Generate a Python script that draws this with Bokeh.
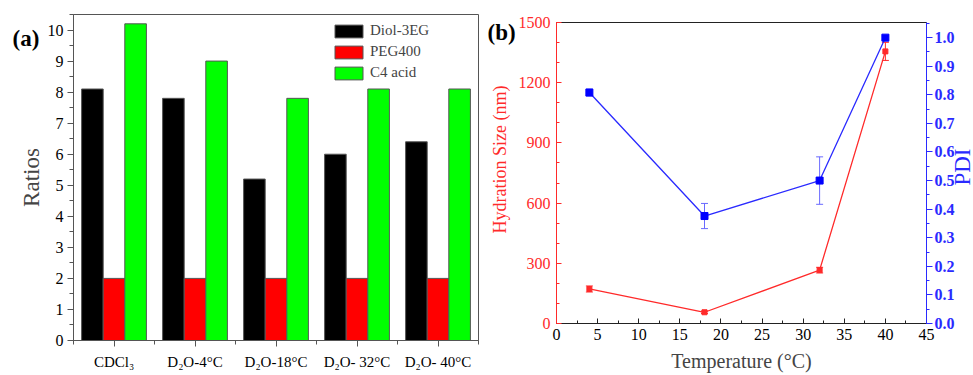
import numpy as np
from bokeh.plotting import figure
from bokeh.layouts import row, column
from bokeh.models import (Range1d, LinearAxis, SingleIntervalTicker, FixedTicker, Legend,
                          LegendItem, Whisker, TeeHead, ColumnDataSource, Title, Div,
                          PrintfTickFormatter)
from bokeh.embed import file_html
from bokeh.resources import INLINE

# ---------------- data ----------------
categories = ["CDCl₃", "D₂O-4°C", "D₂O-18°C", "D₂O- 32°C", "D₂O- 40°C"]
diol_3eg = [8.1, 7.8, 5.2, 6.0, 6.4]
peg400 = [2.0, 2.0, 2.0, 2.0, 2.0]
c4_acid = [10.2, 9.0, 7.8, 8.1, 8.1]

temperature = [4, 18, 32, 40]
hydration_size = [172, 56, 266, 1356]
hydration_err = [15, 6, 14, 45]
pdi = [0.808, 0.376, 0.50, 1.0]
pdi_err = [0.012, 0.044, 0.083, 0.006]

FONT = "Liberation Serif"
RED = "#ff2a2a"
BLUE = "#2a2aff"

# ---------------- panel (a) ----------------
n = len(categories)
xs = np.arange(1, n + 1)
w = 0.8 / 3

pa = figure(width=485, height=375, output_backend="svg", toolbar_location=None,
            x_range=Range1d(0.5, n + 0.5), y_range=Range1d(0, 10.5),
            min_border_left=73, min_border_right=7, min_border_top=14,
            min_border_bottom=35, background_fill_color="white",
            border_fill_color="white")
pa.xgrid.visible = False
pa.ygrid.visible = False
pa.outline_line_color = "#555555"

r1 = pa.vbar(x=xs - w, top=diol_3eg, width=w, fill_color="#000000", line_color="#555555", line_width=1)
r2 = pa.vbar(x=xs, top=peg400, width=w, fill_color="#ff0000", line_color="#555555", line_width=1)
r3 = pa.vbar(x=xs + w, top=c4_acid, width=w, fill_color="#00ff00", line_color="#555555", line_width=1)

legend = Legend(items=[LegendItem(label="Diol-3EG", renderers=[r1]),
                       LegendItem(label="PEG400", renderers=[r2]),
                       LegendItem(label="C4 acid", renderers=[r3])],
                location="top_right", margin=4, padding=4, spacing=4,
                glyph_width=35, glyph_height=16, label_height=16, label_width=100,
                label_standoff=4, label_text_font=FONT, label_text_font_size="15px",
                border_line_alpha=0, background_fill_alpha=0)
pa.add_layout(legend)

ya = pa.yaxis[0]
ya.ticker = SingleIntervalTicker(interval=1, num_minor_ticks=2)
ya.axis_label = "Ratios"
xa = pa.xaxis[0]
xa.ticker = FixedTicker(ticks=[float(v) for v in xs],
                        minor_ticks=[float(v) for v in np.arange(0.5, n + 1, 1.0)])
xa.major_label_overrides = {float(v): c for v, c in zip(xs, categories)}
for ax in (ya, xa):
    ax.axis_line_color = "#555555"
    ax.major_tick_line_color = "#555555"
    ax.minor_tick_line_color = "#555555"
    ax.major_tick_in = 0
    ax.major_tick_out = 6
    ax.minor_tick_in = 0
    ax.minor_tick_out = 4
    ax.major_label_text_font = FONT
    ax.major_label_text_font_size = "16px"
    ax.major_label_text_color = "black"
    ax.axis_label_text_font = FONT
    ax.axis_label_text_font_style = "normal"
    ax.axis_label_text_font_size = "23px"
ya.major_label_standoff = 4
ya.axis_label_standoff = 1
xa.major_label_text_font_size = "15px"
xa.major_label_standoff = 7

pa.add_layout(Title(text="(a)", align="left", offset=-61, vertical_align="bottom",
                    standoff=-72, text_font=FONT, text_font_style="bold",
                    text_font_size="23px", text_color="black"), "above")

# ---------------- panel (b) ----------------
pb = figure(width=472, height=375, output_backend="svg", toolbar_location=None,
            x_range=Range1d(0, 45), y_range=Range1d(0, 1500),
            min_border_left=71, min_border_right=30, min_border_top=22,
            min_border_bottom=52, background_fill_color="white",
            border_fill_color="white")
pb.extra_y_ranges = {"pdi": Range1d(0, 1.053)}
pb.xgrid.visible = False
pb.ygrid.visible = False
pb.outline_line_color = "#222222"

src_h = ColumnDataSource(dict(x=temperature, y=hydration_size,
                              lo=[v - e for v, e in zip(hydration_size, hydration_err)],
                              hi=[v + e for v, e in zip(hydration_size, hydration_err)]))
src_p = ColumnDataSource(dict(x=temperature, y=pdi,
                              lo=[v - e for v, e in zip(pdi, pdi_err)],
                              hi=[v + e for v, e in zip(pdi, pdi_err)]))

pb.add_layout(Whisker(source=src_h, base="x", upper="hi", lower="lo", line_color=RED,
                      line_width=1,
                      upper_head=TeeHead(size=7, line_color=RED, line_width=1),
                      lower_head=TeeHead(size=7, line_color=RED, line_width=1)))
pb.line("x", "y", source=src_h, line_color=RED, line_width=1.3)
pb.scatter("x", "y", source=src_h, marker="square", size=5, fill_color=RED, line_color=RED)

pb.add_layout(Whisker(source=src_p, base="x", upper="hi", lower="lo", y_range_name="pdi",
                      line_color="#6a6aff", line_width=1,
                      upper_head=TeeHead(size=7, line_color="#6a6aff", line_width=1),
                      lower_head=TeeHead(size=7, line_color="#6a6aff", line_width=1)))
pb.line("x", "y", source=src_p, y_range_name="pdi", line_color=BLUE, line_width=1.3)
pb.scatter("x", "y", source=src_p, y_range_name="pdi", marker="square", size=7,
           fill_color="#0000ff", line_color="#0000ff")

xb = pb.xaxis[0]
xb.ticker = SingleIntervalTicker(interval=5, num_minor_ticks=2)
xb.axis_label = "Temperature (°C)"
xb.axis_line_color = "#222222"
xb.major_tick_line_color = "#222222"
xb.minor_tick_line_color = "#222222"
xb.major_tick_in = 5
xb.major_tick_out = 0
xb.minor_tick_in = 3
xb.minor_tick_out = 0
xb.major_label_text_font = FONT
xb.major_label_text_font_size = "16px"
xb.major_label_text_color = "black"
xb.major_label_standoff = 5
xb.axis_label_text_font = FONT
xb.axis_label_text_font_style = "normal"
xb.axis_label_text_font_size = "20px"
xb.axis_label_standoff = 7

yb = pb.yaxis[0]
yb.ticker = SingleIntervalTicker(interval=300, num_minor_ticks=3)
yb.axis_label = "\u00a0" * 6 + "Hydration Size (nm)"
yb.axis_line_color = RED
yb.major_tick_line_color = RED
yb.minor_tick_line_color = RED
yb.major_tick_in = 5
yb.major_tick_out = 0
yb.minor_tick_in = 3
yb.minor_tick_out = 0
yb.major_label_text_font = FONT
yb.major_label_text_font_size = "16px"
yb.major_label_text_color = RED
yb.major_label_standoff = 6
yb.axis_label_text_font = FONT
yb.axis_label_text_font_style = "normal"
yb.axis_label_text_font_size = "18px"
yb.axis_label_text_color = RED
yb.axis_label_standoff = 6

yr = LinearAxis(y_range_name="pdi",
                ticker=SingleIntervalTicker(interval=0.1, num_minor_ticks=2),
                formatter=PrintfTickFormatter(format="%.1f"))
yr.axis_line_color = BLUE
yr.major_tick_line_color = BLUE
yr.minor_tick_line_color = BLUE
yr.major_tick_in = 0
yr.major_tick_out = 6
yr.minor_tick_in = 0
yr.minor_tick_out = 3
yr.major_label_text_font = FONT
yr.major_label_text_font_size = "16px"
yr.major_label_text_font_style = "bold"
yr.major_label_text_color = BLUE
yr.major_label_standoff = 2
pb.add_layout(yr, "right")

pb.add_layout(Title(text="(b)", align="left", offset=-69, vertical_align="bottom",
                    standoff=-44, text_font=FONT, text_font_style="bold",
                    text_font_size="23px", text_color="black"), "above")

pdi_label = Div(
    text=('<div style="position:relative;width:16px;height:375px;">'
          '<span style="position:absolute;left:5px;top:167px;'
          'transform:translate(-50%,-50%) rotate(-90deg);'
          "font-family:'Liberation Serif';font-size:23px;line-height:1;"
          'color:' + BLUE + ';white-space:nowrap;">PDI</span></div>'),
    width=16, height=375, margin=0)

layout = row(column(pa), column(pb), pdi_label)
open("out.html", "w").write(file_html(layout, INLINE))
